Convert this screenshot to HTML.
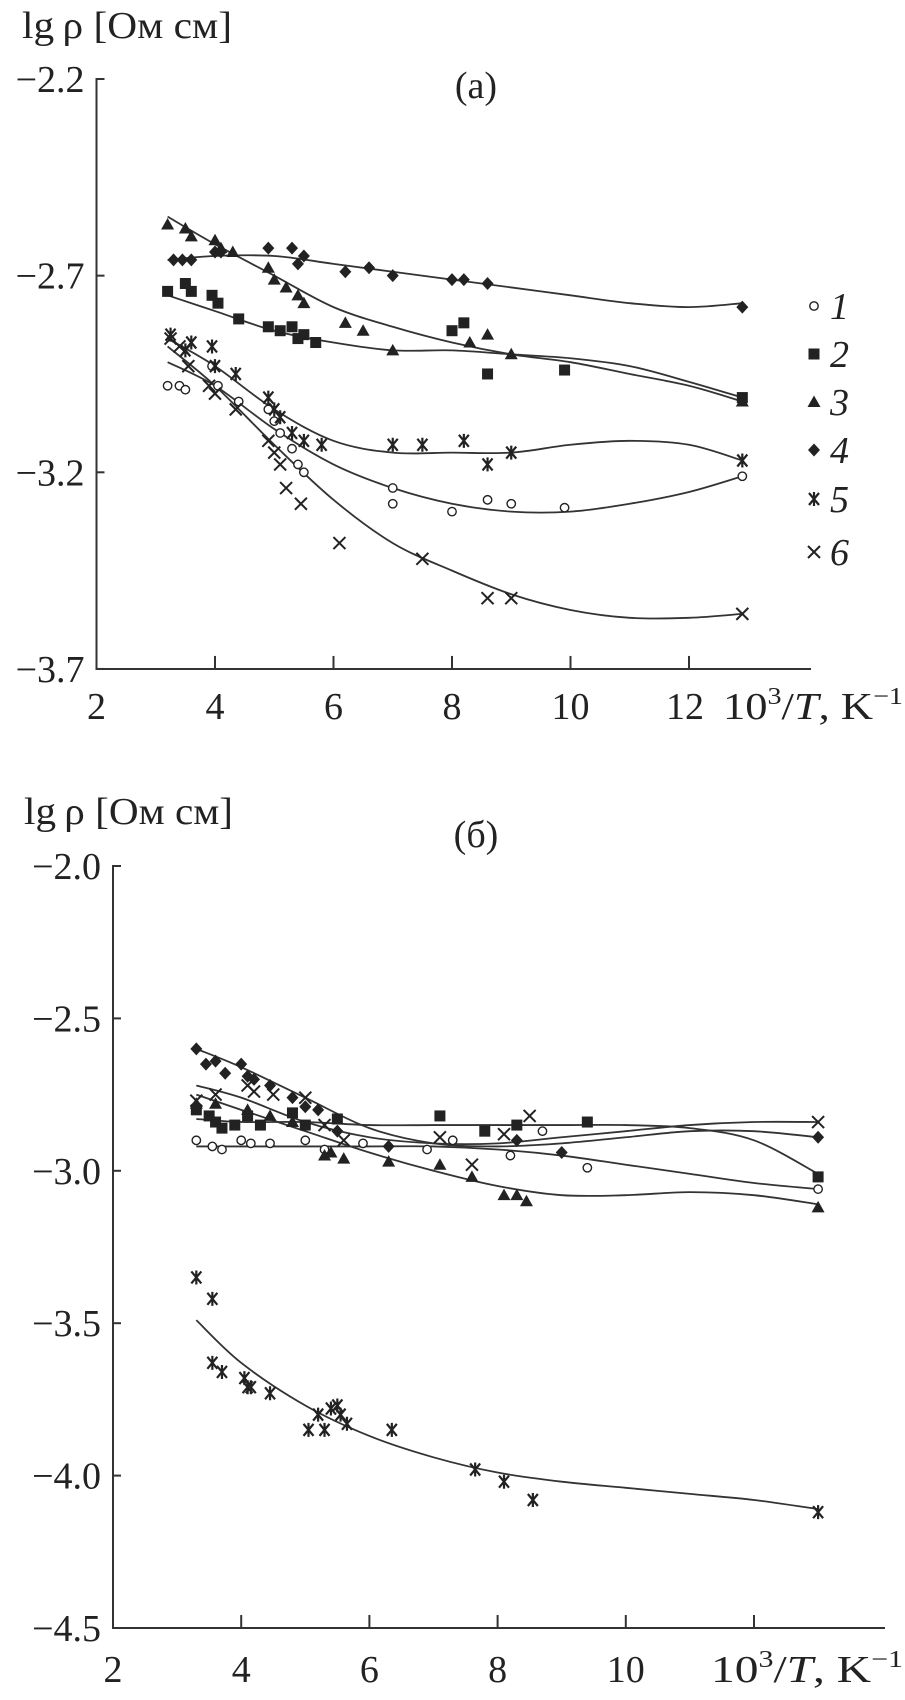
<!DOCTYPE html>
<html><head><meta charset="utf-8"><style>
body{margin:0;background:#fff}
svg text{font-family:"Liberation Serif","Noto Serif CJK SC",serif;fill:#222}
</style></head><body>
<svg id="c" width="905" height="1695" xmlns="http://www.w3.org/2000/svg"></svg>
<script>
// ---------- Panel (a) data ----------
const aS1x=[3.2,3.4,3.5,3.95,4.05,4.4,4.9,5.0,5.1,5.3,5.4,5.5,7.0,7.0,8.0,8.6,9.0,9.9,12.9];
const aS1y=[-2.98,-2.98,-2.99,-2.93,-2.98,-3.02,-3.04,-3.07,-3.10,-3.14,-3.18,-3.20,-3.24,-3.28,-3.30,-3.27,-3.28,-3.29,-3.21];
const aS2x=[3.2,3.5,3.6,3.95,4.05,4.4,4.9,5.1,5.3,5.4,5.5,5.7,8.0,8.2,8.6,9.9,12.9];
const aS2y=[-2.74,-2.72,-2.74,-2.75,-2.77,-2.81,-2.83,-2.84,-2.83,-2.86,-2.85,-2.87,-2.84,-2.82,-2.95,-2.94,-3.01];
const aS3x=[3.2,3.5,3.6,4.0,4.1,4.3,4.9,5.0,5.2,5.4,5.5,6.2,6.5,7.0,8.3,8.6,9.0,12.9];
const aS3y=[-2.57,-2.58,-2.60,-2.61,-2.63,-2.64,-2.68,-2.71,-2.73,-2.75,-2.77,-2.82,-2.84,-2.89,-2.87,-2.85,-2.90,-3.02];
const aS4x=[3.3,3.45,3.6,4.0,4.1,4.9,5.3,5.4,5.5,6.2,6.6,7.0,8.0,8.2,8.6,12.9];
const aS4y=[-2.66,-2.66,-2.66,-2.64,-2.64,-2.63,-2.63,-2.67,-2.65,-2.69,-2.68,-2.70,-2.71,-2.71,-2.72,-2.78];
const aS5x=[3.25,3.5,3.6,3.95,4.0,4.35,4.9,5.0,5.1,5.3,5.5,5.8,7.0,7.5,8.2,8.6,9.0,12.9];
const aS5y=[-2.85,-2.89,-2.87,-2.88,-2.93,-2.95,-3.01,-3.04,-3.06,-3.10,-3.12,-3.13,-3.13,-3.13,-3.12,-3.18,-3.15,-3.17];
const aS6x=[3.25,3.4,3.55,3.9,4.0,4.35,4.9,5.0,5.1,5.2,5.45,6.1,7.5,8.6,9.0,12.9];
const aS6y=[-2.86,-2.88,-2.93,-2.98,-3.00,-3.04,-3.12,-3.15,-3.18,-3.24,-3.28,-3.38,-3.42,-3.52,-3.52,-3.56];
const aFitX=[3.2,4,5,6,7,8,9,10,11,12,12.9];
const aF1=[-2.92,-2.98,-3.09,-3.18,-3.24,-3.28,-3.30,-3.30,-3.28,-3.25,-3.21];
const aF2=[-2.75,-2.79,-2.84,-2.87,-2.89,-2.89,-2.90,-2.91,-2.93,-2.97,-3.01];
const aF3=[-2.55,-2.62,-2.70,-2.78,-2.83,-2.87,-2.90,-2.92,-2.95,-2.98,-3.02];
const aF4=[-2.66,-2.65,-2.65,-2.67,-2.69,-2.71,-2.73,-2.75,-2.77,-2.78,-2.77];
const aF5=[-2.86,-2.93,-3.04,-3.12,-3.15,-3.15,-3.15,-3.13,-3.12,-3.13,-3.17];
const aF6=[-2.88,-2.98,-3.13,-3.27,-3.38,-3.45,-3.51,-3.55,-3.57,-3.57,-3.56];
const aYTicks=[-2.2,-2.7,-3.2,-3.7];
const aXTicks=[2,4,6,8,10,12];
// ---------- Panel (б) data ----------
const bS1x=[3.3,3.55,3.7,4.0,4.15,4.45,5.0,5.3,5.9,6.9,7.3,8.2,8.7,9.4,13];
const bS1y=[-2.90,-2.92,-2.93,-2.90,-2.91,-2.91,-2.90,-2.93,-2.91,-2.93,-2.90,-2.95,-2.87,-2.99,-3.06];
const bS2x=[3.3,3.5,3.6,3.7,3.9,4.1,4.3,4.8,5.0,5.5,7.1,7.8,8.3,9.4,13];
const bS2y=[-2.80,-2.82,-2.84,-2.86,-2.85,-2.82,-2.85,-2.81,-2.85,-2.83,-2.82,-2.87,-2.85,-2.84,-3.02];
const bS3x=[3.3,3.6,4.1,4.45,4.8,5.3,5.4,5.6,6.3,7.1,7.6,8.1,8.3,8.45,13];
const bS3y=[-2.78,-2.78,-2.80,-2.82,-2.84,-2.95,-2.94,-2.96,-2.97,-2.98,-3.02,-3.08,-3.08,-3.10,-3.12];
const bS4x=[3.3,3.45,3.6,3.75,4.0,4.1,4.2,4.45,4.8,5.0,5.2,5.5,6.3,8.3,9.0,13];
const bS4y=[-2.60,-2.65,-2.64,-2.68,-2.65,-2.69,-2.70,-2.72,-2.76,-2.79,-2.80,-2.87,-2.92,-2.90,-2.94,-2.89];
const bS5x=[3.3,3.55,3.55,3.7,4.05,4.1,4.15,4.45,5.05,5.2,5.3,5.4,5.5,5.55,5.65,6.35,7.65,8.1,8.55,13];
const bS5y=[-3.35,-3.42,-3.63,-3.66,-3.68,-3.71,-3.71,-3.73,-3.85,-3.80,-3.85,-3.78,-3.77,-3.80,-3.83,-3.85,-3.98,-4.02,-4.08,-4.12];
const bS6x=[3.3,3.6,4.1,4.2,4.5,5.0,5.3,5.6,7.1,7.6,8.1,8.5,13];
const bS6y=[-2.77,-2.75,-2.72,-2.74,-2.75,-2.76,-2.85,-2.90,-2.89,-2.98,-2.88,-2.82,-2.84];
const bFitX=[3.3,4,5,6,7,8,9,10,11,12,13];
const bF1=[-2.92,-2.92,-2.92,-2.92,-2.92,-2.93,-2.95,-2.98,-3.01,-3.04,-3.06];
const bF2=[-2.83,-2.84,-2.84,-2.85,-2.85,-2.85,-2.85,-2.85,-2.86,-2.90,-3.01];
const bF3=[-2.75,-2.80,-2.87,-2.94,-3.00,-3.05,-3.08,-3.08,-3.07,-3.08,-3.11];
const bF4=[-2.60,-2.66,-2.76,-2.86,-2.91,-2.92,-2.91,-2.89,-2.87,-2.87,-2.89];
const bF5=[-3.49,-3.63,-3.77,-3.87,-3.94,-3.99,-4.02,-4.04,-4.06,-4.08,-4.11];
const bF6=[-2.72,-2.76,-2.84,-2.89,-2.91,-2.91,-2.89,-2.87,-2.85,-2.84,-2.84];
const bYTicks=[-2.0,-2.5,-3.0,-3.5,-4.0,-4.5];
const bXTicks=[2,4,6,8,10,12];

const NS="http://www.w3.org/2000/svg";
const FS=38;
const svg=document.getElementById('c');
function mk(tag,attrs,parent,txt){const e=document.createElementNS(NS,tag);for(const k in attrs)e.setAttribute(k,attrs[k]);if(txt!==undefined)e.textContent=txt;(parent||svg).appendChild(e);return e;}

function marker(g,type,px,py){
  let e;const s=5.5;
  if(type===1){e=mk('circle',{cx:px,cy:py,r:4.2,fill:'#fff',stroke:'#222','stroke-width':1.4},g);}
  else if(type===2){e=mk('rect',{x:px-s,y:py-s,width:2*s,height:2*s,fill:'#222'},g);}
  else if(type===3){e=mk('path',{d:`M${px},${py-6.5}L${px+6.5},${py+5}L${px-6.5},${py+5}Z`,fill:'#222'},g);}
  else if(type===4){e=mk('path',{d:`M${px},${py-6.5}L${px+6},${py}L${px},${py+6.5}L${px-6},${py}Z`,fill:'#222'},g);}
  else if(type===5){e=mk('path',{d:`M${px-5},${py-6}L${px+5},${py+6}M${px+5},${py-6}L${px-5},${py+6}M${px},${py-7}V${py+7}`,stroke:'#222','stroke-width':2.2,fill:'none'},g);}
  else {e=mk('path',{d:`M${px-6},${py-6}L${px+6},${py+6}M${px+6},${py-6}L${px-6},${py+6}`,stroke:'#222','stroke-width':2,fill:'none'},g);}
  return e;
}
function smooth(pts){
  let d=`M${pts[0][0]},${pts[0][1]}`;
  for(let i=0;i<pts.length-1;i++){
    const p0=pts[Math.max(i-1,0)],p1=pts[i],p2=pts[i+1],p3=pts[Math.min(i+2,pts.length-1)];
    d+=`C${p1[0]+(p2[0]-p0[0])/6},${p1[1]+(p2[1]-p0[1])/6} ${p2[0]-(p3[0]-p1[0])/6},${p2[1]-(p3[1]-p1[1])/6} ${p2[0]},${p2[1]}`;
  }
  return d;
}

function panel(cfg){
  const g=mk('g',{});
  
  
  const X=v=>cfg.x0+(v-2)*cfg.xu;
  const Y=v=>cfg.y0+(cfg.yTop-v)*cfg.yu;
  const yBot=cfg.yTicks[cfg.yTicks.length-1];
  const ax=mk('path',{d:`M${X(2)+8},${Y(cfg.yTop)}H${X(2)}V${Y(yBot)}H${cfg.xEnd}`,stroke:'#333','stroke-width':2,fill:'none'},g);
  
  
  cfg.yTicks.forEach(t=>{
    const l=mk('line',{x1:X(2),x2:X(2)+8,y1:Y(t),y2:Y(t),stroke:'#333','stroke-width':2},g);
    
    
    const tx=mk('text',{x:X(2)-12,y:Y(t)+13,'text-anchor':'end','font-size':FS},g,'\u2212'+Math.abs(t).toFixed(1));
    
    
  });
  cfg.xTicks.forEach(t=>{
    if(t>2){const l=mk('line',{x1:X(t),x2:X(t),y1:Y(yBot),y2:Y(yBot)-13,stroke:'#333','stroke-width':2},g);
    
    }
    if(cfg.skip12 && t===12) return;
    const tx=mk('text',{x:X(t)+(t===12?-4:0),y:Y(yBot)+cfg.xlDy,'text-anchor':'middle','font-size':FS},g,String(t));
    
    
  });
  const xl=mk('text',{x:cfg.xlX,y:Y(yBot)+cfg.xlDy,'font-size':FS,textLength:cfg.xlW,lengthAdjust:'spacingAndGlyphs'},g);
  
  
  xl.innerHTML='10<tspan font-size="24" dy="-15">3</tspan><tspan dy="15">/</tspan><tspan font-style="italic">T</tspan>, K<tspan font-size="24" dy="-15">\u22121</tspan>';
  const yl=mk('text',{x:cfg.ylX,y:cfg.ylY,'font-size':FS,textLength:cfg.ylW,lengthAdjust:'spacingAndGlyphs'},g,'lg\u2009\u03c1 [Ом см]');
  
  
  const pt=mk('text',{x:cfg.ptX,y:cfg.ptY,'font-size':FS,'text-anchor':'middle'},g,cfg.title);
  
  
  cfg.fits.forEach((f,i)=>{
    const p=mk('path',{d:smooth(cfg.fitX.map((v,j)=>[X(v),Y(f[j])])),stroke:'#333','stroke-width':1.8,fill:'none'},g);
    
    
  });
  cfg.series.forEach((s,i)=>{
    s[0].forEach((v,j)=>{
      const m=marker(g,i+1,X(v),Y(s[1][j]));
      
      
    });
  });
}

panel({name:'panel-a',x0:96.5,xu:59.25,y0:79,yu:393.3,yTop:-2.2,xEnd:811,
  yTicks:aYTicks,xTicks:aXTicks,xlDy:50,xlX:723,xlW:180,ylX:22,ylY:38,ylW:210,ptX:476,ptY:98,title:'(a)',
  fitX:aFitX,fits:[aF1,aF2,aF3,aF4,aF5,aF6],
  series:[[aS1x,aS1y],[aS2x,aS2y],[aS3x,aS3y],[aS4x,aS4y],[aS5x,aS5y],[aS6x,aS6y]]});
panel({name:'panel-b',x0:113,xu:64.1,y0:866,yu:304.8,yTop:-2.0,xEnd:885,skip12:true,
  yTicks:bYTicks,xTicks:bXTicks,xlDy:54,xlX:711,xlW:192,ylX:24,ylY:824,ylW:209,ptX:476,ptY:847,title:'(б)',
  fitX:bFitX,fits:[bF1,bF2,bF3,bF4,bF5,bF6],
  series:[[bS1x,bS1y],[bS2x,bS2y],[bS3x,bS3y],[bS4x,bS4y],[bS5x,bS5y],[bS6x,bS6y]]});

// legend panel a
const legY=[306,354,402,450,499,552];
legY.forEach((y,i)=>{
  const m=marker(svg,i+1,814,y);
  
  
  const t=mk('text',{x:830,y:y+13,'font-size':FS,'font-style':'italic'},svg,String(i+1));
  
  
});
</script>
</body></html>
